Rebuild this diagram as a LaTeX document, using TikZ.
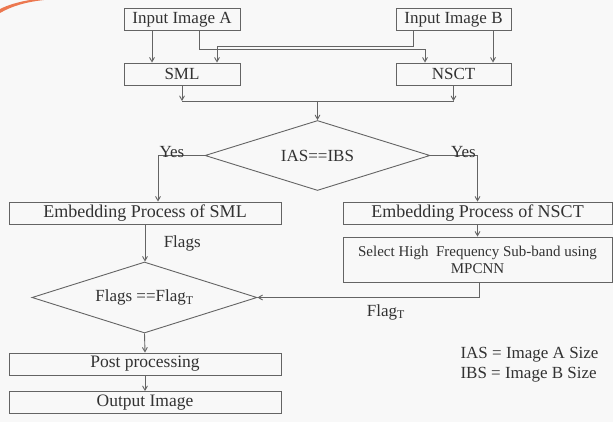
\documentclass[tikz,border=0pt]{standalone}
\usepackage{fontspec}
\setmainfont{Liberation Serif}
\usetikzlibrary{shapes,arrows,positioning}
\definecolor{linegray}{RGB}{100,100,100}
\definecolor{textgray}{RGB}{50,50,50}
\definecolor{paper}{RGB}{248,248,248}
\definecolor{swoosh}{RGB}{236,120,80}

\tikzset{
  box/.style={draw=linegray, line width=0.9pt, rectangle, inner sep=0pt, minimum height=22pt, text=textgray, font=\fontsize{17}{19}\selectfont},
  decide/.style={draw=linegray, line width=0.9pt, diamond, aspect=3.2, inner sep=0pt, minimum width=225pt, minimum height=70pt, text=textgray, font=\fontsize{17}{19}\selectfont},
  flow/.style={draw=linegray, line width=0.9pt, ->, >=angle 60},
  plain/.style={draw=linegray, line width=0.9pt},
  lbl/.style={text=textgray, font=\fontsize{17}{20}\selectfont}
}

\begin{document}
\begin{tikzpicture}[x=1pt,y=-1pt]
\fill[paper] (0,0) rectangle (613,422);
\useasboundingbox (0,0) rectangle (613,422);
\fill[swoosh] (0,13) .. controls (12,6) and (26,2) .. (44,0) -- (30,0) .. controls (18,2) and (8,5) .. (0,9) -- cycle;

%Inputs
\node[box, minimum width=116pt] (inA) at (182,19.5) {Input Image A};
\node[box, minimum width=115pt] (inB) at (453.5,19.5) {Input Image B};

%Transforms
\node[box, minimum width=116pt] (sml) at (182,74) {SML};
\node[box, minimum width=115pt] (nsct) at (453.5,74) {NSCT};
\coordinate (ka) at (425,49);
\coordinate (kb) at (217,46);
\coordinate (join) at (317.5,101);

%Size check
\node[decide] (dec) at (317.5,155.5) {IAS==IBS};

%Embedding
\node[box, minimum width=272pt, font=\fontsize{18}{20}\selectfont] (embS) at (145,213) {Embedding Process of SML};
\node[box, minimum width=269pt, font=\fontsize{18}{20}\selectfont] (embN) at (477.5,213) {Embedding Process of NSCT};
\node[box, minimum width=269pt, minimum height=45pt, align=center, font=\fontsize{15}{17}\selectfont] (sel) at (477.5,259.5) {Select High~ Frequency Sub-band using\\MPCNN};

%Flags check
\node[decide, minimum height=71pt] (dec2) at (144.5,297.5) {Flags ==Flag\textsubscript{T}};

%Output
\node[box, minimum width=272pt, font=\fontsize{17.5}{19}\selectfont] (post) at (145,364) {Post processing};
\node[box, minimum width=272pt, font=\fontsize{17.5}{19}\selectfont] (out) at (145,402.5) {Output Image};

\node[lbl, anchor=west, align=left] (legend) at (457,365) {IAS = Image A Size\\IBS = Image B Size};

% arrows
\draw[flow] ([xshift=-30pt]inA.south) -- ([xshift=-30pt]inA.south |- sml.north);
\draw[flow] ([xshift=39.5pt]inB.south) -- ([xshift=39.5pt]inB.south |- nsct.north);
\draw[flow] ([xshift=17pt]inA.south) |- (ka) -- (ka |- nsct.north);
\draw[flow] ([xshift=-40.5pt]inB.south) |- (kb) -- (kb |- sml.north);

\draw[flow] (sml.south) -- (sml.south |- join);
\draw[flow] (nsct.south) -- (nsct.south |- join);
\draw[plain] (sml.south |- join) -- (nsct.south |- join);
\draw[flow] (join) -- (dec.north);

\draw[flow] (dec.west) -| node[lbl, pos=0.35, above, inner sep=0pt, yshift=-3pt] {Yes} ([xshift=13pt]embS.north);
\draw[flow] (dec.east) -| node[lbl, pos=0.35, above, inner sep=0pt, yshift=-3pt] {Yes} (embN.north);

\draw[flow] (embS.south) -- node[lbl, right=15pt] {Flags} (embS.south |- dec2.north);
\draw[flow] (embN.south) -- (sel.north);
\draw[flow] ([xshift=1.5pt]sel.south) |- node[lbl, pos=0.71, below=3pt] {Flag\textsubscript{T}} (dec2.east);

\draw[flow] (dec2.south) -- (post.north);
\draw[flow] (post.south) -- (out.north);

\end{tikzpicture}
\end{document}
